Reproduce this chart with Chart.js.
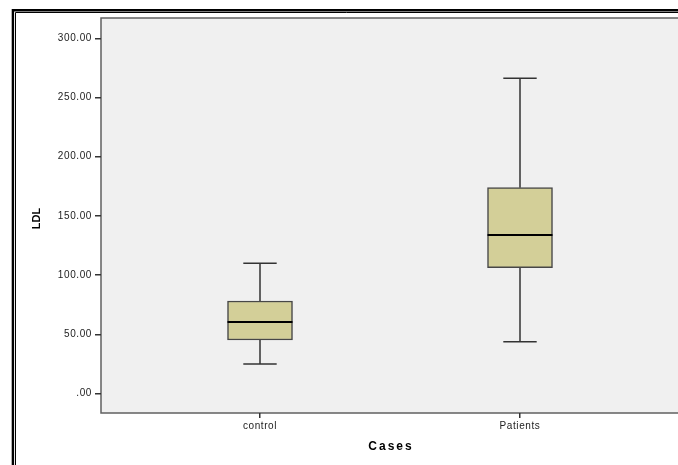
<!DOCTYPE html>
<html>
<head>
<meta charset="utf-8">
<title>LDL by Cases</title>
<script src="https://cdn.jsdelivr.net/npm/chart.js@4/dist/chart.umd.min.js"></script>
<style>
  html, body { margin: 0; padding: 0; background: #ffffff; }
  #wrap { width: 678px; height: 465px; }
</style>
</head>
<body>
<div id="wrap"><canvas id="chart" width="678" height="465"></canvas></div>
<script>
// Groups on the x axis (positions 0 and 1)
const categories = ['control', 'Patients'];
// Five-number summaries of LDL per group
const whiskerLow  = [25.1, 43.9];
const quartile1   = [45.3, 106.4];
const medians     = [60.5, 134.0];
const quartile3   = [78.2, 173.9];
const whiskerHigh = [110.1, 266.2];
// Y axis tick values
const yTicks = [0, 50, 100, 150, 200, 250, 300];

const xTitle = 'Cases';
const yTitle = 'LDL';

const FONT = "'Liberation Sans', Arial, sans-serif";
const BOX_FILL = '#d3cf98';
const BOX_EDGE = '#474747';
const WHISKER = '#333333';
const PLOT_BG = '#f0f0f0';
const PLOT_EDGE = '#606060';

const boxData = categories.map((c, i) => ({ x: i, y: [quartile1[i], quartile3[i]] }));

const boxPlotPlugin = {
  id: 'boxPlotParts',
  beforeDraw(chart) {
    const { ctx, chartArea: a, width, height } = chart;
    ctx.save();
    ctx.fillStyle = '#ffffff';
    ctx.fillRect(0, 0, width, height);
    // double frame around the output
    ctx.strokeStyle = '#000000';
    ctx.lineWidth = 2.4;
    ctx.beginPath();
    ctx.moveTo(12.9, height); ctx.lineTo(12.9, 10.2); ctx.lineTo(width, 10.2);
    ctx.stroke();
    ctx.lineWidth = 1;
    ctx.beginPath();
    ctx.moveTo(15.5, height); ctx.lineTo(15.5, 12.5); ctx.lineTo(width, 12.5);
    ctx.stroke();
    // plot background and its edges
    ctx.fillStyle = PLOT_BG;
    ctx.fillRect(a.left, a.top, a.right - a.left, a.bottom - a.top);
    ctx.strokeStyle = PLOT_EDGE;
    ctx.lineWidth = 1.5;
    ctx.beginPath();
    ctx.moveTo(width, a.top); ctx.lineTo(a.left, a.top);
    ctx.lineTo(a.left, a.bottom); ctx.lineTo(width, a.bottom);
    ctx.stroke();
    ctx.restore();
    ctx.letterSpacing = '0.6px';
  },
  beforeDatasetsDraw(chart) {
    const { ctx, scales: { x, y } } = chart;
    ctx.save();
    ctx.letterSpacing = '0px';
    ctx.strokeStyle = WHISKER;
    ctx.lineWidth = 1.5;
    categories.forEach((c, i) => {
      const cx = x.getPixelForValue(i);
      const capHalf = 16.7;
      const yHi = y.getPixelForValue(whiskerHigh[i]);
      const yLo = y.getPixelForValue(whiskerLow[i]);
      ctx.beginPath();
      ctx.moveTo(cx, yHi); ctx.lineTo(cx, y.getPixelForValue(quartile3[i]));
      ctx.moveTo(cx, yLo); ctx.lineTo(cx, y.getPixelForValue(quartile1[i]));
      ctx.moveTo(cx - capHalf, yHi); ctx.lineTo(cx + capHalf, yHi);
      ctx.moveTo(cx - capHalf, yLo); ctx.lineTo(cx + capHalf, yLo);
      ctx.stroke();
    });
    ctx.restore();
  },
  afterDatasetsDraw(chart) {
    const { ctx, scales: { x, y } } = chart;
    const meta = chart.getDatasetMeta(0);
    ctx.save();
    ctx.strokeStyle = '#000000';
    ctx.lineWidth = 2;
    categories.forEach((c, i) => {
      const bar = meta.data[i];
      const half = bar.width / 2;
      const cx = x.getPixelForValue(i);
      const ym = y.getPixelForValue(medians[i]);
      ctx.beginPath();
      ctx.moveTo(cx - half, ym); ctx.lineTo(cx + half, ym);
      ctx.stroke();
    });
    ctx.restore();
  },
  afterDraw(chart) {
    const { ctx, chartArea: a } = chart;
    ctx.save();
    ctx.fillStyle = '#000000';
    ctx.font = "bold 12px " + FONT;
    ctx.letterSpacing = '2px';
    ctx.textAlign = 'center';
    ctx.textBaseline = 'alphabetic';
    ctx.fillText(xTitle, (a.left + 679) / 2 + 1, 450);
    ctx.letterSpacing = '0px';
    ctx.font = "bold 11px " + FONT;
    ctx.translate(39.5, (a.top + a.bottom) / 2 + 3);
    ctx.rotate(-Math.PI / 2);
    ctx.fillText(yTitle, 0, 0);
    ctx.restore();
  }
};

new Chart(document.getElementById('chart'), {
  type: 'bar',
  data: {
    datasets: [{
      data: boxData,
      backgroundColor: BOX_FILL,
      borderColor: BOX_EDGE,
      borderWidth: 1.5,
      borderSkipped: false,
      barThickness: 65
    }]
  },
  options: {
    responsive: false,
    devicePixelRatio: 1,
    animation: false,
    layout: { padding: { left: 0, top: 18, right: 0, bottom: 0 } },
    plugins: { legend: { display: false }, tooltip: { enabled: false } },
    scales: {
      x: {
        type: 'linear',
        offset: false,
        min: -0.61154,
        max: 1.60769,
        afterFit(scale) { scale.height = 52; },
        afterBuildTicks(scale) { scale.ticks = categories.map((c, i) => ({ value: i })); },
        border: { display: false },
        grid: { offset: false, drawOnChartArea: false, drawTicks: true, tickLength: 5, tickColor: '#333333', lineWidth: 1.5 },
        ticks: {
          autoSkip: false, maxRotation: 0, padding: 2,
          color: '#222222',
          font: { family: FONT, size: 10 },
          callback: (v) => categories[v] ?? ''
        }
      },
      y: {
        type: 'linear',
        min: -16.3,
        max: 317.1,
        afterFit(scale) { scale.width = 101; },
        afterBuildTicks(scale) { scale.ticks = yTicks.map(v => ({ value: v })); },
        border: { display: false },
        grid: { drawOnChartArea: false, drawTicks: true, tickLength: 6, tickColor: '#333333', lineWidth: 1.5 },
        ticks: {
          padding: 3,
          color: '#222222',
          font: { family: FONT, size: 10 },
          callback: (v) => v === 0 ? '.00' : v.toFixed(2)
        }
      }
    }
  },
  plugins: [boxPlotPlugin]
});
</script>
</body>
</html>
